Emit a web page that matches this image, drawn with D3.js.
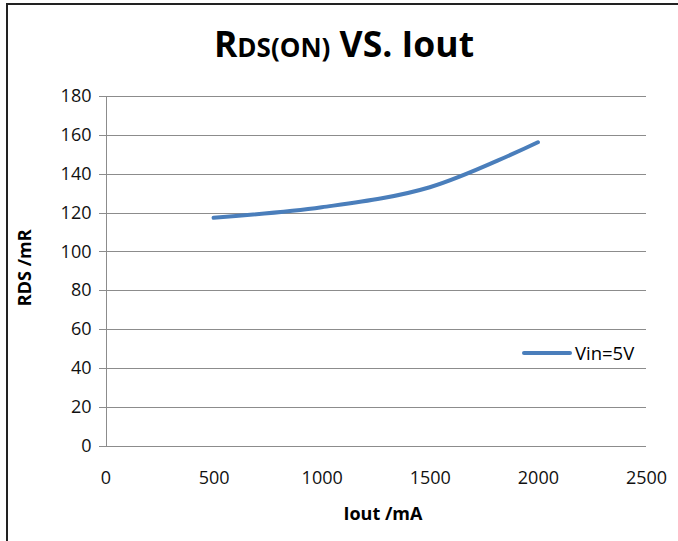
<!DOCTYPE html>
<html>
<head>
<meta charset="utf-8">
<script src="https://cdn.jsdelivr.net/npm/d3@7"></script>
<style>
  body { margin: 0; background: #fff; }
  svg { display: block; }
  text { font-family: 'Open Sans', sans-serif; fill: #000; }
  .grid line { stroke: #8c8c8c; stroke-width: 1; shape-rendering: crispEdges; }
  .axis path, .axis line { stroke: #8c8c8c; shape-rendering: crispEdges; }
  .axis text { font-family: 'Open Sans', sans-serif; font-size: 18px; fill: #111; }
</style>
</head>
<body>
<div id="chart"></div>
<script>
var iout = [500, 1000, 1500, 2000];
var rds = [117.3, 122.7, 133, 156.2];
var seriesName = 'Vin=5V';
var xTicks = [0, 500, 1000, 1500, 2000, 2500];
var yTicks = [0, 20, 40, 60, 80, 100, 120, 140, 160, 180];

var W = 678, H = 541;
var margin = { top: 96, right: 32, bottom: 95.5, left: 105.5 };
var width = W - margin.left - margin.right,
    height = H - margin.top - margin.bottom;

var svg = d3.select('#chart').append('svg')
    .attr('width', W)
    .attr('height', H);

// frame, only top and left edges are in the picture
svg.append('path')
    .attr('d', 'M7,' + H + 'V4H' + W)
    .attr('fill', 'none')
    .attr('stroke', '#222')
    .attr('stroke-width', 2);

var g = svg.append('g')
    .attr('transform', 'translate(' + margin.left + ',' + margin.top + ')');

var x = d3.scaleLinear().domain([0, 2500]).range([0, width]);
var y = d3.scaleLinear().domain([0, 180]).range([height, 0]);

g.append('g')
    .attr('class', 'grid')
    .selectAll('line')
    .data(yTicks.slice(1))
    .enter()
    .append('line')
    .attr('x1', 0)
    .attr('x2', width)
    .attr('y1', function (d) { return Math.round(y(d)) + 0.5; })
    .attr('y2', function (d) { return Math.round(y(d)) + 0.5; });

var yAxis = d3.axisLeft(y)
    .tickValues(yTicks)
    .tickFormat(d3.format('d'))
    .tickSize(7)
    .tickPadding(7);

g.append('g')
    .attr('class', 'axis')
    .call(yAxis)
    .call(function (s) { s.select('.domain').attr('d', 'M0.5,0V' + height); });

var xAxis = d3.axisBottom(x)
    .tickValues(xTicks)
    .tickFormat(d3.format('d'))
    .tickSize(0)
    .tickPadding(26);

g.append('g')
    .attr('class', 'axis')
    .attr('transform', 'translate(0,' + height + ')')
    .call(xAxis)
    .call(function (s) { s.select('.domain').attr('d', 'M-7,0.5H' + width); });

d3.selectAll('.axis').attr('font-family', null).attr('font-size', null);

var line = d3.line()
    .x(function (d, i) { return x(iout[i]); })
    .y(function (d) { return y(d); })
    .curve(d3.curveCatmullRom);

g.append('path')
    .datum(rds)
    .attr('fill', 'none')
    .attr('stroke', '#4a7ebb')
    .attr('stroke-width', 4)
    .attr('stroke-linecap', 'round')
    .attr('d', line);

// legend
var legend = svg.append('g').attr('transform', 'translate(524,353)');
legend.append('line')
    .attr('x1', 0).attr('x2', 46)
    .attr('stroke', '#4a7ebb')
    .attr('stroke-width', 4)
    .attr('stroke-linecap', 'round');
legend.append('text')
    .attr('x', 51)
    .attr('y', 6.5)
    .attr('font-size', 18.5)
    .text(seriesName);

// title
var title = svg.append('text')
    .attr('x', 344)
    .attr('y', 57)
    .attr('text-anchor', 'middle')
    .attr('font-weight', 'bold')
    .attr('font-size', 35.5);
title.append('tspan').text('R');
title.append('tspan').attr('font-size', 26).text('DS(ON)');
title.append('tspan').text(' VS. Iout');

svg.append('text')
    .attr('transform', 'translate(31,' + (margin.top + height / 2 - 3) + ') rotate(-90)')
    .attr('text-anchor', 'middle')
    .attr('font-weight', 'bold')
    .attr('font-size', 18)
    .text('RDS /mR');

svg.append('text')
    .attr('x', 383)
    .attr('y', 520)
    .attr('text-anchor', 'middle')
    .attr('font-weight', 'bold')
    .attr('font-size', 18)
    .text('Iout /mA');
</script>
</body>
</html>
